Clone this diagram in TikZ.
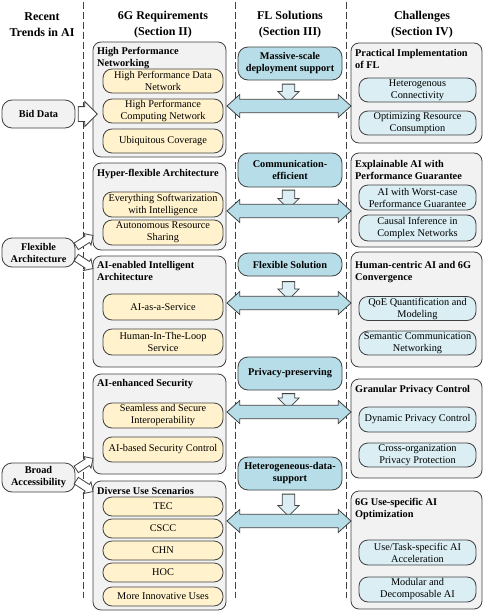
\documentclass[tikz,border=0pt]{standalone}
\usepackage{fontspec}
\setmainfont{Liberation Serif}
\usetikzlibrary{shapes.arrows}
\definecolor{boxgray}{HTML}{F2F2F2}
\definecolor{reqyellow}{HTML}{FFF2CC}
\definecolor{solblue}{HTML}{B7DEE8}
\definecolor{chlblue}{HTML}{DAEEF3}
\definecolor{edgegray}{HTML}{404040}
\tikzset{every node/.style={ % Sets the default text of every node
            font=\fontsize{10.3}{12}\selectfont,
            inner sep=1pt},
        header/.style={ % Column titles
            font=\fontsize{12}{16}\selectfont\bfseries,
            align=center},
        group/.style={ % Grey frame around a topic
            draw=edgegray, line width=0.8pt,
            fill=boxgray,
            rounded corners=8pt,
            inner sep=0pt},
        grouptitle/.style={
            anchor=north west,
            align=left,
            inner sep=0pt,
            font=\fontsize{10.3}{12}\selectfont\bfseries},
        trend/.style={
            draw=edgegray, line width=0.8pt,
            fill=boxgray,
            rounded corners=10pt,
            minimum width=73pt,
            align=center,
            font=\fontsize{10.3}{12}\selectfont\bfseries},
        req/.style={ % Yellow items of the 6G requirements
            draw=edgegray, line width=0.8pt,
            fill=reqyellow,
            rounded corners=9pt,
            minimum width=120pt,
            align=center},
        sol/.style={ % FL solutions
            draw=edgegray, line width=0.8pt,
            fill=solblue,
            rounded corners=10pt,
            minimum width=104pt,
            align=center,
            font=\fontsize{10.3}{12}\selectfont\bfseries},
        chl/.style={ % Items of the challenges
            draw=edgegray, line width=0.8pt,
            fill=chlblue,
            rounded corners=9pt,
            minimum width=117pt,
            align=center},
        link/.style={ % Horizontal double block arrow
            double arrow,
            draw=edgegray, line width=0.8pt,
            fill=solblue,
            inner xsep=0pt, inner ysep=6.3pt,
            minimum width=22pt,
            double arrow head extend=4.7pt,
            double arrow tip angle=84},
        down/.style={ % Small arrow under each solution
            single arrow,
            draw=edgegray, line width=0.8pt,
            fill=chlblue,
            inner xsep=0pt, inner ysep=5.8pt,
            minimum width=20.5pt,
            single arrow head extend=4.5pt,
            rotate=-90},
        feed/.style={ % White arrow from a trend
            single arrow,
            draw=edgegray, line width=0.8pt,
            fill=white,
            inner xsep=0pt, inner ysep=7pt,
            minimum width=24pt,
            single arrow head extend=5pt},
        smallfeed/.style={
            feed,
            inner ysep=3.5pt,
            minimum width=13pt,
            single arrow head extend=3pt},
        sep/.style={
            draw=edgegray, line width=0.8pt,
            dash pattern=on 7pt off 3pt}
        }

\begin{document}
\begin{tikzpicture}[x=1pt, y=-1pt]
    \useasboundingbox (0,0) rectangle (485,613);

    % column separators
    \foreach \x in {83,235,346}
        \draw[sep] (\x,2) -- (\x,598);

    % column titles
    \node[header] (h-trend) at (42,25)  {Recent\\Trends in AI};
    \node[header] (h-req)   at (163,25) {6G Requirements\\(Section II)};
    \node[header] (h-sol)   at (290,25) {FL Solutions\\(Section III)};
    \node[header] (h-chl)   at (422,25) {Challenges\\(Section IV)};

    % recent trends
    \node[trend, minimum height=28pt] (bigdata)  at (38.5,114)   {Bid Data};
    \node[trend, minimum height=29pt] (flexarch) at (38.5,252.5) {Flexible\\Architecture};
    \node[trend, minimum height=29pt] (broadacc) at (38.5,477.5) {Broad\\Accessibility};

    % 6G requirements
    \node[group, minimum width=133pt, minimum height=115pt] (hpn) at (159.5,99.5)  {};
    \node[group, minimum width=133pt, minimum height=87pt]  (hfa) at (159.5,206.5) {};
    \node[group, minimum width=133pt, minimum height=111pt] (aia) at (159.5,311.5) {};
    \node[group, minimum width=133pt, minimum height=100pt] (aes) at (159.5,424)   {};
    \node[group, minimum width=133pt, minimum height=129pt] (dus) at (159.5,545.5) {};

    \node[req, minimum height=24pt] (hpn1) at (163,81)    {High Performance Data\\Network};
    \node[req, minimum height=24pt] (hpn2) at (163,111)   {High Performance\\Computing Network};
    \node[req, minimum height=24pt] (hpn3) at (163,141)   {Ubiquitous Coverage};
    \node[req, minimum height=25pt] (hfa1) at (163,204.5) {Everything Softwarization\\with Intelligence};
    \node[req, minimum height=25pt] (hfa2) at (163,232.5) {Autonomous Resource\\Sharing};
    \node[req, minimum height=26pt] (aia1) at (163,307)   {AI-as-a-Service};
    \node[req, minimum height=26pt] (aia2) at (163,342)   {Human-In-The-Loop\\Service};
    \node[req, minimum height=25pt] (aes1) at (163,415.5) {Seamless and Secure\\Interoperability};
    \node[req, minimum height=25pt] (aes2) at (163,449.5) {AI-based Security Control};
    \node[req, minimum height=19pt] (dus1) at (163,506.5) {TEC};
    \node[req, minimum height=19pt] (dus2) at (163,528.5) {CSCC};
    \node[req, minimum height=19pt] (dus3) at (163,550.5) {CHN};
    \node[req, minimum height=19pt] (dus4) at (163,572.5) {HOC};
    \node[req, minimum height=19pt] (dus5) at (163,596.5) {More Innovative Uses};

    \node[grouptitle] (hpn-t) at (97,47)  {High Performance\\Networking};
    \node[grouptitle] (hfa-t) at (97,169) {Hyper-flexible Architecture};
    \node[grouptitle] (aia-t) at (97,261) {AI-enabled Intelligent\\Architecture};
    \node[grouptitle] (aes-t) at (97,379) {AI-enhanced Security};
    \node[grouptitle] (dus-t) at (97,487) {Diverse Use Scenarios};

    % FL solutions
    \node[sol, minimum height=33pt] (massive)  at (290,63.5)  {Massive-scale\\deployment support};
    \node[sol, minimum height=34pt] (commeff)  at (290,170)   {Communication-\\efficient};
    \node[sol, minimum height=23pt] (flexsol)  at (290,264.5) {Flexible Solution};
    \node[sol, minimum height=33pt] (privpres) at (290,373.5) {Privacy-preserving};
    \node[sol, minimum height=33pt] (hetdata)  at (290,473.5) {Heterogeneous-data-\\support};

    % challenges
    \node[group, minimum width=131pt, minimum height=100pt] (pifl) at (416.5,93)    {};
    \node[group, minimum width=131pt, minimum height=94pt]  (xai)  at (416.5,200)   {};
    \node[group, minimum width=131pt, minimum height=115pt] (hcai) at (416.5,309.5) {};
    \node[group, minimum width=131pt, minimum height=99pt]  (gpc)  at (416.5,428.5) {};
    \node[group, minimum width=131pt, minimum height=118pt] (uso)  at (416.5,550)   {};

    \node[chl, minimum height=24pt] (pifl1) at (417.5,90)    {Heterogenous\\Connectivity};
    \node[chl, minimum height=24pt] (pifl2) at (417.5,123)   {Optimizing Resource\\Consumption};
    \node[chl, minimum height=25pt] (xai1)  at (417.5,197.5) {AI with Worst-case\\Performance Guarantee};
    \node[chl, minimum height=26pt] (xai2)  at (417.5,228)   {Causal Inference in\\Complex Networks};
    \node[chl, minimum height=24pt] (hcai1) at (417.5,308.5) {QoE Quantification and\\Modeling};
    \node[chl, minimum height=24pt] (hcai2) at (417.5,343)   {Semantic Communication\\Networking};
    \node[chl, minimum height=25pt] (gpc1)  at (417.5,419.5) {Dynamic Privacy Control};
    \node[chl, minimum height=24pt] (gpc2)  at (417.5,455)   {Cross-organization\\Privacy Protection};
    \node[chl, minimum height=25pt] (uso1)  at (417.5,552.5) {Use/Task-specific AI\\Acceleration};
    \node[chl, minimum height=25pt] (uso2)  at (417.5,589.5) {Modular and\\Decomposable AI};

    \node[grouptitle] (pifl-t) at (355,49)  {Practical Implementation\\of FL};
    \node[grouptitle] (xai-t)  at (355,160) {Explainable AI with\\Performance Guarantee};
    \node[grouptitle] (hcai-t) at (355,261) {Human-centric AI and 6G\\Convergence};
    \node[grouptitle] (gpc-t)  at (355,385) {Granular Privacy Control};
    \node[grouptitle] (uso-t)  at (355,498) {6G Use-specific AI\\Optimization};

    % arrows from the solutions
    \node[down, minimum height=18pt] (massive-a)  at (288.5,90)    {};
    \node[down, minimum height=19pt] (commeff-a)  at (288.5,196.5) {};
    \node[down, minimum height=18pt] (flexsol-a)  at (288.5,287.5) {};
    \node[down, minimum height=15pt] (privpres-a) at (288.5,398)   {};
    \node[down, minimum height=22pt] (hetdata-a)  at (288.5,502)   {};

    \node[link, minimum height=124pt] (massive-l)  at (289,106)   {};
    \node[link, minimum height=124pt] (commeff-l)  at (289,211)   {};
    \node[link, minimum height=124pt] (flexsol-l)  at (289,303)   {};
    \node[link, minimum height=124pt] (privpres-l) at (289,412)   {};
    \node[link, minimum height=124pt] (hetdata-l)  at (289,521)   {};

    % arrows from the trends
    \node[feed, minimum height=19pt] (bigdata-a) at (84,114) {};
    \node[smallfeed, minimum height=20pt, rotate=33]  (flexarch-a1) at (83,242) {};
    \node[smallfeed, minimum height=20pt, rotate=-33] (flexarch-a2) at (83,262) {};
    \node[smallfeed, minimum height=20pt, rotate=33]  (broadacc-a1) at (83,465) {};
    \node[smallfeed, minimum height=20pt, rotate=-33] (broadacc-a2) at (83,485) {};
\end{tikzpicture}
\end{document}
